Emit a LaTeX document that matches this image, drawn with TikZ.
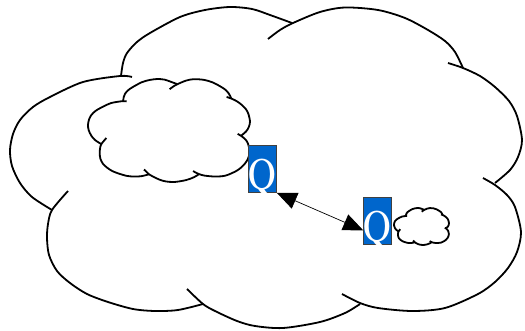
\documentclass[tikz,border=0pt]{standalone}
\usetikzlibrary{arrows.meta,calc}
\definecolor{qblue}{HTML}{0066CC}
\newcommand\qtimes{\fontencoding{T1}\fontfamily{ptm}\fontsize{45}{45}\selectfont}
\tikzset{
  cloudline/.style={line width=1.8pt, line join=round},
  % seven-lobed cloud, drawn in its own frame: x 10..522, y 7..328 (y downwards)
  cloudpic/.pic={
    % left lobe
    \draw[cloudline] plot[smooth] coordinates {(52,210) (32,197) (20,183) (12,166) (10,150) (13,134) (20,120) (33,107) (50,97) (83,82) (120,76) (132,77)};
    % top-left lobe
    \draw[cloudline] plot[smooth] coordinates {(121,76) (123,63) (127,53) (137,42) (150,33) (180,17) (205,10) (230,7) (252,9) (270,15) (292,23)};
    % top-right lobe
    \draw[cloudline] plot[smooth] coordinates {(268,39) (280,30) (293,23) (320,12) (345,7.5) (378,10) (405,18) (428,30) (445,41) (455,52) (463,68)};
    % right-upper lobe
    \draw[cloudline] plot[smooth] coordinates {(448,63) (463,68) (480,76) (495,87) (509,101) (517,116) (522,140) (518,157) (510,170) (495,183)};
    % right-lower lobe
    \draw[cloudline] plot[smooth] coordinates {(483,178) (495,185) (507,195) (515,207) (521,232) (517,252) (508,268) (495,282) (478,294) (445,308) (412,311) (378,308) (360,303) (342,294)};
    % bottom lobe
    \draw[cloudline] plot[smooth] coordinates {(360,304) (345,313) (320,322) (283,328) (255,326) (237,321) (215,311) (203,304) (187,289)};
    % bottom-left lobe
    \draw[cloudline] plot[smooth] coordinates {(203,304) (178,310) (155,311) (133,309) (108,302) (87,294) (70,283) (57,271) (49,255) (47,238) (48,224) (52,210) (68,191)};
  },
  qbox/.style={draw=black!75, line width=0.6pt, fill=qblue, minimum width=28pt, minimum height=47pt, inner sep=0pt},
  qletter/.style={text=white, font=\qtimes, inner sep=0pt, anchor=base},
  link/.style={line width=0.7pt, {Triangle[length=20pt,width=17pt]}-{Triangle[length=20pt,width=17pt]}}
}
\begin{document}
\begin{tikzpicture}[x=1pt,y=-1pt]
  \useasboundingbox (0,0) rectangle (525,331);

  % the large cloud and the two clouds inside it
  \pic {cloudpic};
  \pic[shift={(84.84,76.75)}, xscale=0.3164, yscale=0.3209] {cloudpic};
  \pic[shift={(392.93,207.19)}, xscale=0.1074, yscale=0.1153] {cloudpic};

  % the two Q boxes
  \node[qbox] (q1) at (262.5,169) {};
  \node[qbox] (q2) at (377.5,220.5) {};
  \node[qletter] (q1t) at ($(q1.south)+(0,-3)$) {\scalebox{0.85}[1]{Q}};
  \node[qletter] (q2t) at ($(q2.south)+(0,-3)$) {\scalebox{0.85}[1]{Q}};

  % double-headed link between them
  \coordinate (q2in) at ($(q2.south west)+(0,-14)$);
  \draw[link] (q1.south east) -- (q2in);
\end{tikzpicture}
\end{document}
